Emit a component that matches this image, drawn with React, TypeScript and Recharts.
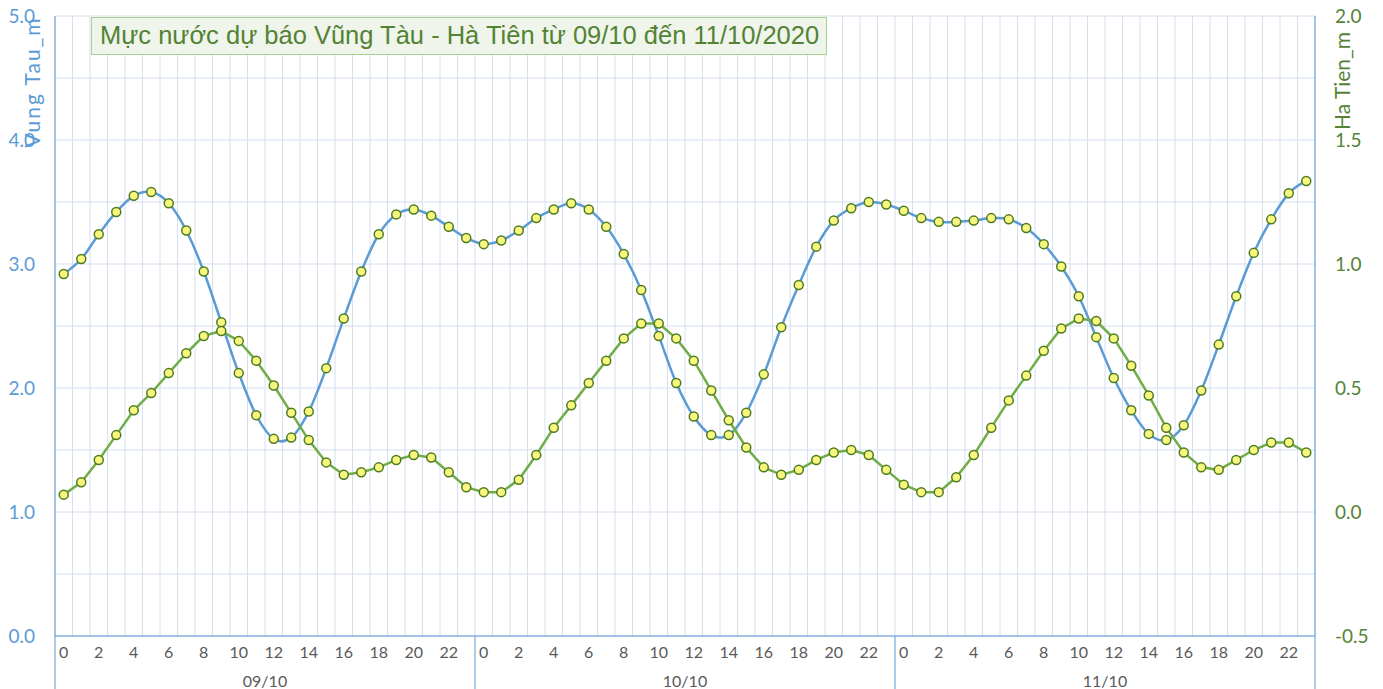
import React from 'react';
import { LineChart, Line, XAxis, YAxis, CartesianGrid } from 'recharts';

const days = ['09/10', '10/10', '11/10'];
const hoursPerDay = 24;

const vungTau = [
  2.92, 3.04, 3.24, 3.42, 3.55, 3.58, 3.49, 3.27, 2.94, 2.53, 2.12, 1.78, 1.59, 1.6, 1.81, 2.16, 2.56, 2.94, 3.24, 3.4, 3.44, 3.39, 3.3, 3.21,
  3.16, 3.19, 3.27, 3.37, 3.44, 3.49, 3.44, 3.3, 3.08, 2.79, 2.42, 2.04, 1.77, 1.62, 1.62, 1.8, 2.11, 2.49, 2.83, 3.14, 3.35, 3.45, 3.5, 3.48,
  3.43, 3.37, 3.34, 3.34, 3.35, 3.37, 3.36, 3.29, 3.16, 2.98, 2.74, 2.41, 2.08, 1.82, 1.63, 1.58, 1.7, 1.98, 2.35, 2.74, 3.09, 3.36, 3.57, 3.67,
];

const haTien = [
  0.07, 0.12, 0.21, 0.31, 0.41, 0.48, 0.56, 0.64, 0.71, 0.73, 0.69, 0.61, 0.51, 0.4, 0.29, 0.2, 0.15, 0.16, 0.18, 0.21, 0.23, 0.22, 0.16, 0.1,
  0.08, 0.08, 0.13, 0.23, 0.34, 0.43, 0.52, 0.61, 0.7, 0.76, 0.76, 0.7, 0.61, 0.49, 0.37, 0.26, 0.18, 0.15, 0.17, 0.21, 0.24, 0.25, 0.23, 0.17,
  0.11, 0.08, 0.08, 0.14, 0.23, 0.34, 0.45, 0.55, 0.65, 0.74, 0.78, 0.77, 0.7, 0.59, 0.47, 0.34, 0.24, 0.18, 0.17, 0.21, 0.25, 0.28, 0.28, 0.24,
];

const leftTicks = [0, 1, 2, 3, 4, 5];
const rightTicks = [-0.5, 0, 0.5, 1, 1.5, 2];
const titleText = 'Mực nước dự báo Vũng Tàu - Hà Tiên từ 09/10 đến 11/10/2020';

const data = vungTau.map((v, i) => ({
  i,
  hour: i % hoursPerDay,
  day: days[Math.floor(i / hoursPerDay)],
  vt: v,
  ht: haTien[i],
}));

const BLUE = '#5B9BD5';
const GREEN = '#70AD47';
const DARKGREEN = '#548235';
const TICKFONT = 'Lato, "Open Sans", sans-serif';

// Catmull-Rom (cardinal, tension 0) curve, similar to Excel smoothed lines
function smoothCurve(context: any) {
  let x0 = NaN, y0 = NaN, x1 = NaN, y1 = NaN, x2 = NaN, y2 = NaN;
  let pt = 0;
  let lineState: any;
  const k = 1 / 6;
  const seg = (x: number, y: number) => {
    context.bezierCurveTo(
      x1 + k * (x2 - x0),
      y1 + k * (y2 - y0),
      x2 + k * (x1 - x),
      y2 + k * (y1 - y),
      x2,
      y2
    );
  };
  return {
    areaStart() { lineState = 0; },
    areaEnd() { lineState = NaN; },
    lineStart() { x0 = x1 = x2 = y0 = y1 = y2 = NaN; pt = 0; },
    lineEnd() {
      if (pt === 2) context.lineTo(x2, y2);
      else if (pt === 3) seg(x1, y1);
      if (lineState || (lineState !== 0 && pt === 1)) context.closePath();
      lineState = 1 - lineState;
    },
    point(x: number, y: number) {
      x = +x; y = +y;
      if (pt === 0) {
        pt = 1;
        if (lineState) context.lineTo(x, y); else context.moveTo(x, y);
      } else if (pt === 1) {
        pt = 2;
        x1 = x; y1 = y;
      } else {
        pt = 3;
        seg(x, y);
      }
      x0 = x1; x1 = x2; x2 = x;
      y0 = y1; y1 = y2; y2 = y;
    },
  };
}

const XTick = (props: any) => {
  const { x, y, payload } = props;
  const idx = payload.value as number;
  const d = data[idx];
  const half = payload.offset ? payload.offset : 8.75;
  const els: any[] = [];
  if (d.hour % 2 === 0) {
    els.push(
      <text key="h" x={x} y={y + 22} textAnchor="middle" fill="#595959" fontSize={16} fontFamily={TICKFONT}>
        {d.hour}
      </text>
    );
  }
  if (d.hour === 0) {
    els.push(<line key="s" x1={x - half} x2={x - half} y1={y} y2={y + 53} stroke={BLUE} strokeWidth={1} />);
  }
  if (idx === data.length - 1) {
    els.push(<line key="e" x1={x + half} x2={x + half} y1={y} y2={y + 53} stroke={BLUE} strokeWidth={1} />);
  }
  if (d.hour === hoursPerDay / 2 - 1) {
    els.push(
      <text key="d" x={x + half} y={y + 51} textAnchor="middle" fill="#595959" fontSize={16} fontFamily={TICKFONT}>
        {d.day}
      </text>
    );
  }
  return <g>{els}</g>;
};

const dotStyle = { r: 4.5, fill: '#F7F77F', stroke: '#4E7A1E', strokeWidth: 1.5 };

export default function App() {
  return (
    <div style={{ position: 'absolute', left: 0, top: 0, width: 1383, height: 689, background: '#fff' }}>
      <LineChart width={1383} height={689} data={data} margin={{ top: 16, right: 0, bottom: 0, left: 0 }}>
        <CartesianGrid
          stroke="#D6DFF0"
          strokeWidth={1}
          horizontalCoordinatesGenerator={({ offset }: any) =>
            Array.from({ length: 11 }, (_, k) => offset.top + (k * offset.height) / 10)
          }
          verticalCoordinatesGenerator={({ offset }: any) =>
            Array.from({ length: data.length + 1 }, (_, k) => offset.left + (k * offset.width) / data.length)
          }
        />
        <XAxis
          dataKey="i"
          type="category"
          scale="band"
          interval={0}
          height={53}
          tickSize={0}
          tickMargin={0}
          tickLine={false}
          axisLine={{ stroke: BLUE, strokeWidth: 1 }}
          tick={<XTick />}
        />
        <YAxis
          yAxisId="left"
          domain={[0, 5]}
          ticks={leftTicks}
          width={55}
          tickSize={0}
          tickMargin={20}
          tickLine={false}
          axisLine={{ stroke: BLUE, strokeWidth: 1 }}
          tick={{ fill: BLUE, fontSize: 19, fontFamily: TICKFONT }}
          tickFormatter={(v: number) => v.toFixed(1)}
          allowDataOverflow
        />
        <YAxis
          yAxisId="right"
          orientation="right"
          domain={[-0.5, 2]}
          ticks={rightTicks}
          width={68}
          tickSize={0}
          tickMargin={20}
          tickLine={false}
          axisLine={{ stroke: BLUE, strokeWidth: 1 }}
          tick={{ fill: DARKGREEN, fontSize: 19, fontFamily: TICKFONT, textAnchor: 'start' }}
          tickFormatter={(v: number) => v.toFixed(1)}
          allowDataOverflow
        />
        <Line
          yAxisId="left"
          dataKey="vt"
          type={smoothCurve as any}
          stroke={BLUE}
          strokeWidth={2.5}
          dot={dotStyle}
          activeDot={false}
          isAnimationActive={false}
        />
        <Line
          yAxisId="right"
          dataKey="ht"
          type="linear"
          stroke={GREEN}
          strokeWidth={2.5}
          dot={dotStyle}
          activeDot={false}
          isAnimationActive={false}
        />
      </LineChart>
      <div
        style={{
          position: 'absolute',
          left: 91,
          top: 17,
          width: 736,
          height: 38,
          boxSizing: 'border-box',
          border: '1.5px solid #A9D18E',
          background: '#EFF5EA',
          color: DARKGREEN,
          fontFamily: '"Liberation Sans", Arial, sans-serif',
          fontSize: 25.5,
          lineHeight: '35px',
          paddingLeft: 8,
          whiteSpace: 'nowrap',
        }}
      >
        {titleText}
      </div>
      <div
        style={{
          position: 'absolute',
          left: 31,
          top: 82,
          transform: 'translate(-50%, -50%) rotate(-90deg)',
          color: BLUE,
          fontFamily: TICKFONT,
          fontSize: 21,
          letterSpacing: 2,
          whiteSpace: 'nowrap',
        }}
      >
        Vung Tau_m
      </div>
      <div
        style={{
          position: 'absolute',
          left: 1341,
          top: 81,
          transform: 'translate(-50%, -50%) rotate(-90deg)',
          color: DARKGREEN,
          fontFamily: TICKFONT,
          fontSize: 21,
          whiteSpace: 'nowrap',
        }}
      >
        Ha Tien_m
      </div>
    </div>
  );
}
